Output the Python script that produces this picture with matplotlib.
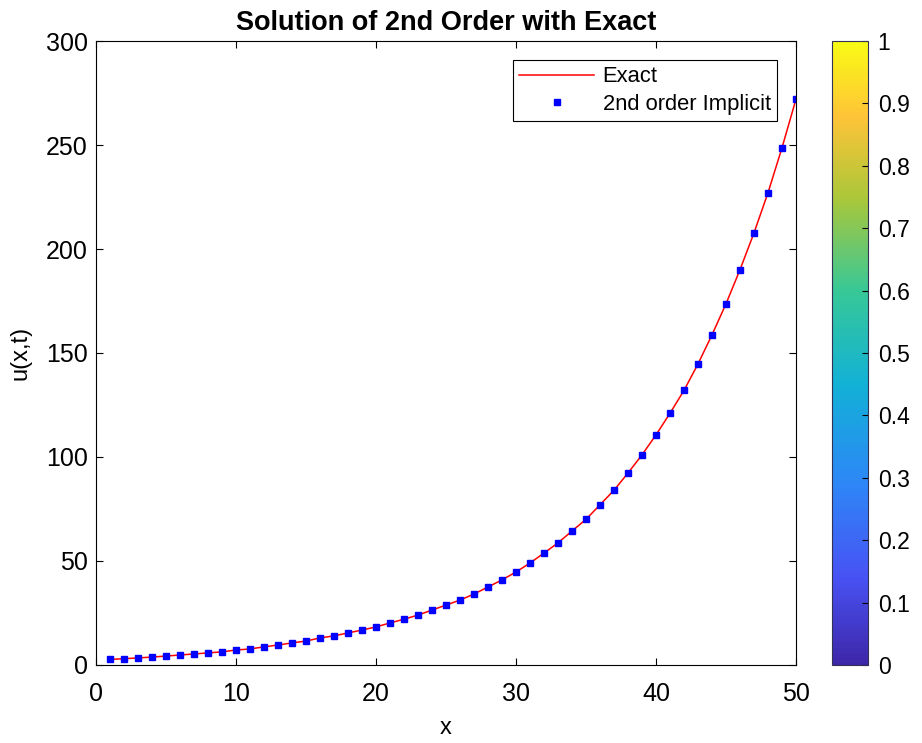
import numpy as np
import matplotlib
matplotlib.use("Agg")
import matplotlib.pyplot as plt
from matplotlib.colors import LinearSegmentedColormap
from matplotlib.cm import ScalarMappable
from matplotlib.colors import Normalize

plt.rcParams['font.family'] = ['Liberation Sans', 'DejaVu Sans']

# grid points and solution values
x = list(range(1, 51))
u_implicit = [2.7, 3.0, 3.4, 3.8, 4.3, 4.8, 5.3, 5.8, 6.3, 7.2,
              7.7, 8.7, 9.6, 10.6, 11.5, 13.0, 14.0, 15.4, 16.8, 18.3,
              20.2, 22.0, 24.0, 26.4, 28.8, 31.2, 34.1, 37.5, 40.9, 44.7,
              49.0, 53.8, 58.7, 64.4, 70.0, 77.0, 84.0, 92.3, 101.0, 110.6,
              121.0, 132.0, 144.7, 158.7, 173.6, 190.0, 207.7, 227.0, 248.6, 272.0]
u_exact = u_implicit

# approximate MATLAB parula
parula_pts = [(0.2422, 0.1504, 0.6603), (0.2810, 0.3228, 0.9579),
              (0.1786, 0.5289, 0.9682), (0.0689, 0.6948, 0.8394),
              (0.2161, 0.7843, 0.5923), (0.6720, 0.7793, 0.2227),
              (0.9970, 0.7659, 0.2199), (0.9769, 0.9839, 0.0805)]
parula = LinearSegmentedColormap.from_list(
    'parula', list(zip([0, 0.14, 0.29, 0.45, 0.6, 0.75, 0.88, 1.0], parula_pts)))

fig = plt.figure(figsize=(9.22, 7.43), dpi=100)
ax = fig.add_axes([0.1041, 0.105, 0.7592, 0.8398])
cax = fig.add_axes([0.9024, 0.105, 0.039, 0.8398])

ax.plot(x, u_exact, color='red', lw=1.1, label='Exact')
ax.plot(x, u_implicit, 's', color='blue', ms=4.3, mec='blue', label='2nd order Implicit')

ax.set_xlim(0, 50)
ax.set_ylim(0, 300)
ax.set_xticks(range(0, 51, 10))
ax.set_yticks(range(0, 301, 50))
ax.tick_params(direction='in', top=True, right=True, labelsize=18, length=5)
ax.tick_params(axis='x', pad=12)
ax.tick_params(axis='y', pad=6)
ax.set_xlabel('x', fontsize=17, labelpad=8)
ax.set_ylabel('u(x,t)', fontsize=17, labelpad=10)
ax.set_title('Solution of 2nd Order with Exact', fontsize=19.5, fontweight='bold', pad=8)
leg = ax.legend(loc='upper right', fontsize=15.8, fancybox=False, framealpha=1,
                edgecolor='black', borderaxespad=0.85, handlelength=3.4,
                handletextpad=0.4, borderpad=0.3, labelspacing=0.3)
leg.get_frame().set_linewidth(0.8)

cb = fig.colorbar(ScalarMappable(norm=Normalize(0, 1), cmap=parula), cax=cax)
cb.set_ticks(np.round(np.arange(0, 1.01, 0.1), 1))
cb.set_ticklabels(['0', '0.1', '0.2', '0.3', '0.4', '0.5', '0.6', '0.7', '0.8', '0.9', '1'])
cax.tick_params(direction='in', labelsize=16.5, length=4, pad=7)
cb.outline.set_linewidth(0.8)
cb.outline.set_edgecolor('#333355')

fig.savefig('out.png', dpi=100)
